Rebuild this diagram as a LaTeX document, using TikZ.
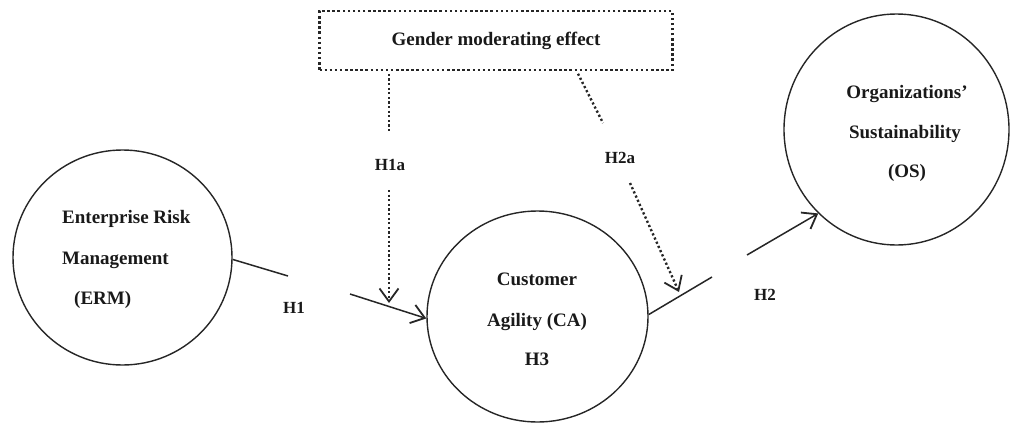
\documentclass[tikz,border=0pt]{standalone}
\usepackage{fontspec}
\setmainfont{Liberation Serif}
\usetikzlibrary{shapes.geometric,arrows.meta}
\begin{document}
\begin{tikzpicture}[x=1pt,y=-1pt,
  construct/.style={draw=black!85,line width=1.4pt,ellipse,inner sep=0pt},
  txt/.style={anchor=base,inner sep=0pt,font=\fontsize{19}{22}\selectfont\bfseries,text=black!90},
  hlabel/.style={anchor=base,inner sep=0pt,font=\fontsize{17}{20}\selectfont\bfseries,text=black!90},
  solidlink/.style={draw=black!85,line width=1.5pt},
  dotlink/.style={draw=black!85,line width=2.4pt,dash pattern=on 2.2pt off 2.4pt},
  barb/.style={-{Straight Barb[length=13pt,width=19pt,line width=1.8pt]}}
]
\useasboundingbox (0,0) rectangle (1011,423);

% moderator box
\node[draw=black!85,line width=2.5pt,dash pattern=on 2.5pt off 2.6pt,
      minimum width=353pt,minimum height=59pt,inner sep=0pt] (gme) at (496,40.5) {};
\node[txt] (gme-t) at (496,45) {Gender moderating effect};

% constructs
\node[construct,minimum width=219pt,minimum height=215pt] (erm) at (122.5,257.5) {};
\node[construct,minimum width=221pt,minimum height=211pt] (ca) at (537.5,316.5) {};
\node[construct,minimum width=225pt,minimum height=231pt] (os) at (896.5,129.5) {};

% construct texts
\node[txt,anchor=base west] (erm-t1) at (62,223) {Enterprise Risk};
\node[txt,anchor=base west] (erm-t2) at (62,264) {Management};
\node[txt,anchor=base west] (erm-t3) at (74,304) {(ERM)};

\node[txt] (ca-t1) at (537,285) {Customer};
\node[txt] (ca-t2) at (537,326) {Agility (CA)};
\node[txt] (ca-t3) at (537,365) {H3};

\node[txt] (os-t1) at (907,98) {Organizations'};
\node[txt] (os-t2) at (905,138) {Sustainability};
\node[txt] (os-t3) at (907,177) {(OS)};

% hypothesis labels
\node[hlabel] (h1) at (294,313) {H1};
\node[hlabel] (h1a) at (390,170) {H1a};
\node[hlabel] (h2a) at (620,163) {H2a};
\node[hlabel] (h2) at (765,300) {H2};

% break points of the paths
\coordinate (h1-s) at (288,276);
\coordinate (h1-e) at (350,294);
\coordinate (h2-s) at (712,277);
\coordinate (h2-e) at (747,255);
\coordinate (h1a-s) at (389,133);
\coordinate (h1a-e) at (389,190);
\coordinate (h1a-tip) at (389,303);
\coordinate (h2a-s) at (603,123);
\coordinate (h2a-e) at (630,183);
\coordinate (h2a-tip) at (679,292);

% direct paths
\draw[solidlink] (erm.-1) -- (h1-s);
\draw[solidlink,barb] (h1-e) -- (ca.181);
\draw[solidlink] (ca.1) -- (h2-s);
\draw[solidlink,barb] (h2-e) -- (os.227);

% moderating paths
\draw[dotlink] ([xshift=-107pt,yshift=-2.5pt]gme.south) -- (h1a-s);
\draw[dotlink,barb] (h1a-e) -- (h1a-tip);
\draw[dotlink] ([xshift=82pt,yshift=-2.5pt]gme.south) -- (h2a-s);
\draw[dotlink,barb] (h2a-e) -- (h2a-tip);
\end{tikzpicture}
\end{document}
